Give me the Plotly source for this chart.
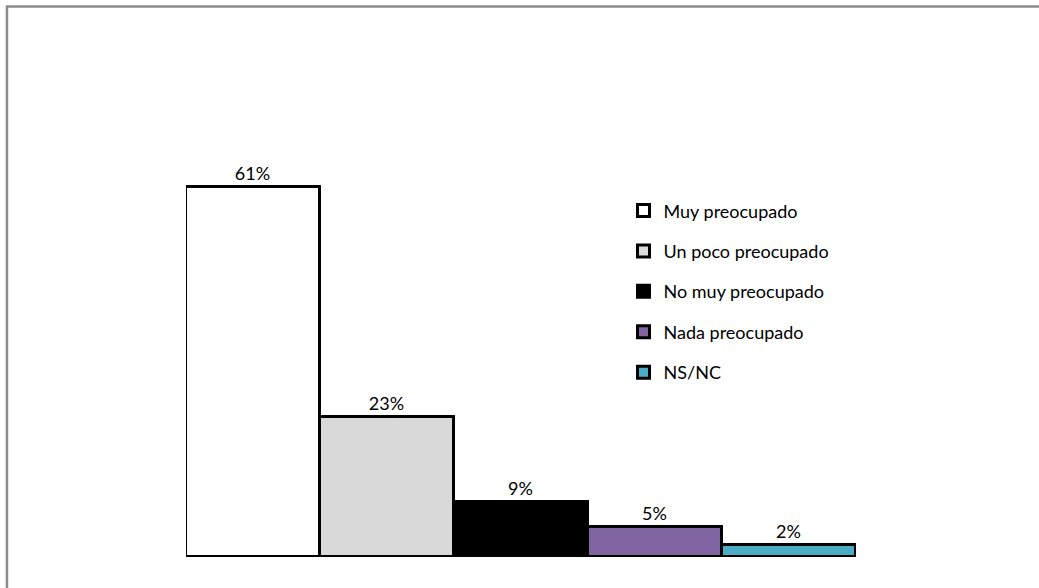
import plotly.graph_objects as go

categorias = ["Muy preocupado", "Un poco preocupado", "No muy preocupado", "Nada preocupado", "NS/NC"]
valores = [61, 23, 9, 5, 2]
colores = ["#ffffff", "#d9d9d9", "#000000", "#8064a2", "#4bacc6"]

fig = go.Figure()
for i, (cat, val, col) in enumerate(zip(categorias, valores, colores)):
    fig.add_trace(go.Bar(
        x=[i], y=[val], name=cat, legendgroup=cat,
        marker=dict(color=col, line=dict(color="#000000", width=3)),
        text=[str(val) + "%"], textposition="outside",
        textfont=dict(family="Lato", size=18, color="#000000"),
        cliponaxis=False, width=1,
    ))

fig.update_layout(
    width=1039, height=588,
    margin=dict(l=186, r=183, t=132, b=31),
    paper_bgcolor="#ffffff", plot_bgcolor="#ffffff",
    barmode="group", bargap=0,
    showlegend=True,
    legend=dict(x=0.653, y=0.858, xanchor="left", yanchor="top",
                font=dict(family="Lato", size=18, color="#000000"),
                tracegroupgap=14, bgcolor="rgba(0,0,0,0)"),
    xaxis=dict(range=[-0.5, 4.5], visible=False, fixedrange=True),
    yaxis=dict(range=[0, 70], visible=False, fixedrange=True),
    shapes=[dict(type="rect", xref="paper", yref="paper",
                 x0=-0.2672, y0=-0.2, x1=1.5, y1=1.2953,
                 line=dict(color="#8c8c8c", width=2.5), layer="below")],
)

# quitar el margen del body para que el grafico quede en (0,0)
fig.write_html("out.html", config={"displayModeBar": False},
               post_script="document.body.style.margin='0';")
